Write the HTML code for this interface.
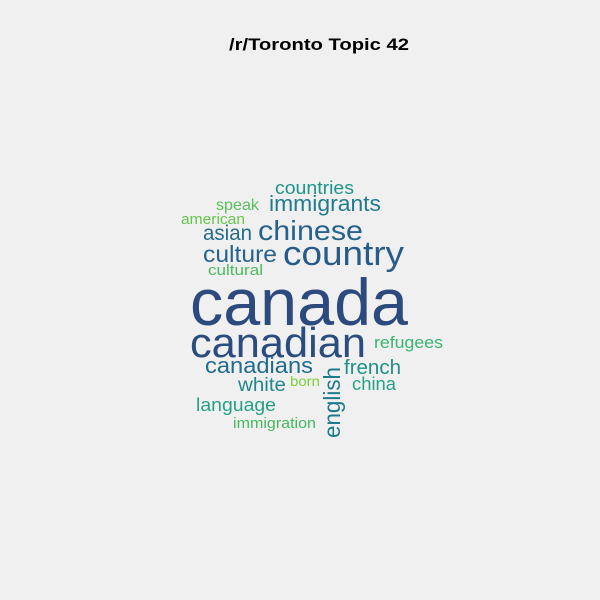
<!DOCTYPE html>
<html><head><meta charset="utf-8"><style>
html,body{margin:0;padding:0;background:#f0f0f0}
svg{display:block;font-family:"Liberation Sans",Arial,sans-serif}
</style></head><body>
<svg width="600" height="600" viewBox="0 0 600 600">
<rect width="600" height="600" fill="#f0f0f0"/>
<text x="319" y="50" text-anchor="middle" font-weight="bold" font-size="17" textLength="180" lengthAdjust="spacingAndGlyphs" fill="#000">/r/Toronto Topic 42</text>
<g id="cloud"></g>
</svg>
<script>
const words = ["canada","canadian","country","chinese","culture","asian","immigrants","canadians","english","countries","french","white","language","china","refugees","immigration","cultural","speak","american","born"];
const sizes = [66,42,34,28,23,21,22,22,23,18,20,19,18,18,17,15,15,16,15,14];
const colors = ["#2c4a7e","#2b4c7f","#285a8a","#26628c","#27638c","#236c8e","#217a8e","#226a8e","#1f7b8b","#1f948a","#1f8f88","#20888c","#26a184","#25a385","#3bb570","#45b85f","#4bbb5c","#57bf5a","#65c64c","#7ccf3c"];
const layout = [
 [190,325,218,0],[190,357,176,0],[283,265,121,0],[258,240,105,0],[203,262,74,0],
 [203,240,49,0],[269,211,112,0],[205,373,108,0],[340,438,71,-90],[275,194,79,0],
 [344,374,57,0],[238,391,48,0],[196,411,80,0],[352,390,44,0],[374,348,69,0],
 [233,428,83,0],[208,275,55,0],[216,210,43,0],[181,224,64,0],[290,386,30,0]
];
const g = document.getElementById('cloud');
words.forEach((w,i)=>{
  const [x,y,len,rot] = layout[i];
  const t = document.createElementNS('http://www.w3.org/2000/svg','text');
  t.setAttribute('x',x); t.setAttribute('y',y);
  t.setAttribute('font-size',sizes[i]);
  t.setAttribute('fill',colors[i]);
  t.setAttribute('textLength',len);
  t.setAttribute('lengthAdjust','spacingAndGlyphs');
  if(rot) t.setAttribute('transform','rotate('+rot+' '+x+' '+y+')');
  t.textContent = w;
  
  
  g.appendChild(t);
});
</script>
</body></html>
